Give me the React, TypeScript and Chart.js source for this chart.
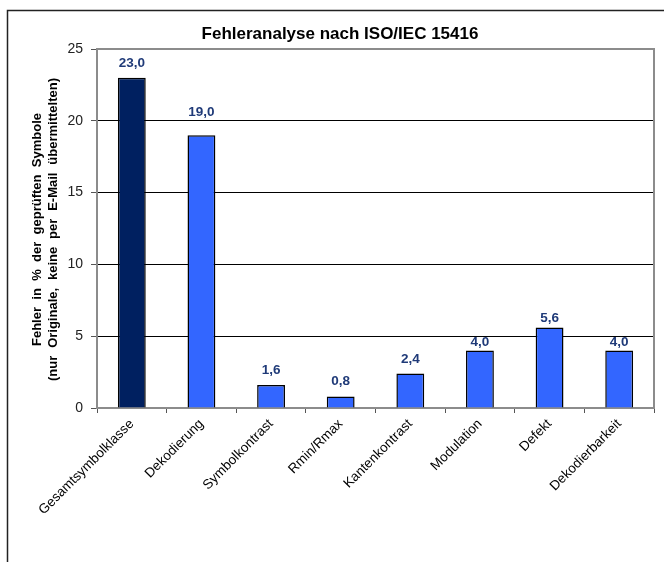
import React, { useEffect, useRef } from "react";
import { Chart, registerables } from "chart.js";

Chart.register(...registerables);

const categories = [
  "Gesamtsymbolklasse",
  "Dekodierung",
  "Symbolkontrast",
  "Rmin/Rmax",
  "Kantenkontrast",
  "Modulation",
  "Defekt",
  "Dekodierbarkeit",
];
const values = [23.0, 19.0, 1.6, 0.8, 2.4, 4.0, 5.6, 4.0];
const barColors = ["#002060", "#3366FF", "#3366FF", "#3366FF", "#3366FF", "#3366FF", "#3366FF", "#3366FF"];
const yTicks = [0, 5, 10, 15, 20, 25];
const chartTitle = "Fehleranalyse nach ISO/IEC 15416";
const yTitle = ["Fehler in % der geprüften Symbole", "(nur Originale, keine per E-Mail übermittelten)"];
// gap (px) between bar top and value-label centre, as placed in the original
const labelGaps = [14, 23, 15, 15, 14, 8, 9, 8];

const FONT = "'Liberation Sans', Arial, sans-serif";

function drawSpaced(ctx: any, text: string, x: number, y: number, target: number) {
  ctx.wordSpacing = "0px";
  const w = ctx.measureText(text).width;
  const spaces = (text.match(/ /g) || []).length;
  const extra = spaces > 0 ? Math.max(0, (target - w) / spaces) : 0;
  ctx.wordSpacing = extra.toFixed(2) + "px";
  ctx.fillText(text, x, y);
  ctx.wordSpacing = "0px";
}

const framePlugin = {
  id: "frame",
  beforeDraw(chart: any) {
    const ctx = chart.ctx;
    ctx.save();
    ctx.fillStyle = "#ffffff";
    ctx.fillRect(0, 0, chart.width, chart.height);
    ctx.strokeStyle = "#222222";
    ctx.lineWidth = 1.5;
    ctx.beginPath();
    ctx.moveTo(7.5, chart.height);
    ctx.lineTo(7.5, 10.5);
    ctx.lineTo(chart.width, 10.5);
    ctx.stroke();
    ctx.restore();
  },
  afterDatasetsDraw(chart: any) {
    const ctx = chart.ctx;
    const a = chart.chartArea;
    ctx.save();
    ctx.strokeStyle = "#8c8c8c";
    ctx.lineWidth = 2;
    ctx.beginPath();
    ctx.moveTo(a.left, a.top);
    ctx.lineTo(a.right, a.top);
    ctx.lineTo(a.right, a.bottom);
    ctx.stroke();

    // chart title
    ctx.fillStyle = "#000";
    ctx.font = "bold 17px " + FONT;
    ctx.textAlign = "center";
    ctx.textBaseline = "middle";
    ctx.fillText(chartTitle, 340, 34);

    // y axis title (two lines, rotated)
    const cy = (a.top + a.bottom) / 2 + 1;
    ctx.save();
    ctx.translate(37, cy);
    ctx.rotate(-Math.PI / 2);
    ctx.font = "bold 13px " + FONT;
    ctx.fillStyle = "#000";
    ctx.textAlign = "center";
    ctx.textBaseline = "middle";
    drawSpaced(ctx, yTitle[0], 0, 0, 233);
    ctx.restore();
    ctx.save();
    ctx.translate(53, cy);
    ctx.rotate(-Math.PI / 2);
    ctx.font = "bold 13px " + FONT;
    ctx.fillStyle = "#000";
    ctx.textAlign = "center";
    ctx.textBaseline = "middle";
    drawSpaced(ctx, yTitle[1], 0, 0, 303);
    ctx.restore();

    // value labels
    const meta = chart.getDatasetMeta(0);
    ctx.fillStyle = "#1F3A78";
    ctx.font = "bold 13.5px " + FONT;
    ctx.textAlign = "center";
    ctx.textBaseline = "middle";
    meta.data.forEach((el: any, i: number) => {
      const v = values[i];
      ctx.fillText(v.toFixed(1).replace(".", ","), el.x, el.y - labelGaps[i]);
    });
    ctx.restore();
  },
};

export default function App() {
  const ref = useRef<HTMLCanvasElement>(null);
  useEffect(() => {
    if (!ref.current) return;
    const chart = new Chart(ref.current, {
      type: "bar",
      data: {
        labels: categories,
        datasets: [
          {
            data: values,
            backgroundColor: barColors,
            borderColor: "#000000",
            borderWidth: 1.5,
            barPercentage: 0.4,
            categoryPercentage: 1,
          },
        ],
      },
      options: {
        responsive: false,
        animation: false,
        layout: { padding: { left: 0, right: 10, top: 49, bottom: 0 } },
        plugins: {
          legend: { display: false },
          tooltip: { enabled: false },
          title: { display: false },
        },
        scales: {
          x: {
            offset: true,
            grid: {
              offset: true,
              drawOnChartArea: false,
              color: "#8c8c8c",
              tickLength: 5,
              tickColor: "#555",
            },
            border: { color: "#8c8c8c", width: 2 },
            ticks: {
              color: "#000",
              font: { family: FONT, size: 13.5 },
              minRotation: 45,
              maxRotation: 45,
              padding: 3,
              autoSkip: false,
            },
            afterFit(scale: any) {
              scale.height = 154;
            },
          },
          y: {
            min: 0,
            max: 25,
            afterBuildTicks(scale: any) {
              scale.ticks = yTicks.map((v) => ({ value: v }));
            },
            grid: {
              color: "#000",
              lineWidth: 1,
              tickLength: 6,
              tickColor: "#555",
            },
            border: { color: "#8c8c8c", width: 2 },
            ticks: {
              color: "#222",
              font: { family: FONT, size: 14 },
              padding: 8,
            },
            afterFit(scale: any) {
              scale.width = 97;
            },
          },
        },
      },
      plugins: [framePlugin],
    });
    return () => chart.destroy();
  }, []);
  return (
    <div style={{ position: "fixed", left: 0, top: 0, width: 664, height: 562 }}>
      <canvas ref={ref} width={664} height={562} style={{ display: "block" }} />
    </div>
  );
}
